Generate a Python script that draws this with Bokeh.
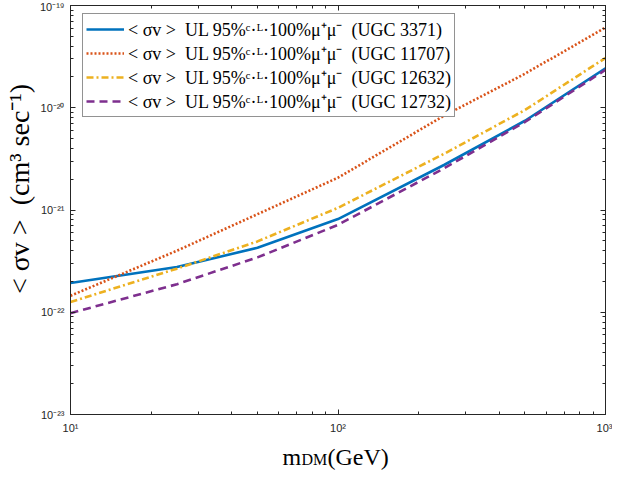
from bokeh.plotting import figure
from bokeh.layouts import column
from bokeh.models import (LogAxis, FixedTicker, CustomJSTickFormatter, Legend, LegendItem, Label)
from bokeh.embed import file_html
from bokeh.resources import INLINE

mass = [10, 25, 50, 100, 250, 500, 1000]
ugc3371 = [1.93e-22, 2.77e-22, 4.27e-22, 8.15e-22, 2.77e-21, 7.46e-21, 2.43e-20]
ugc11707 = [1.45e-22, 4.0e-22, 9.1e-22, 2.07e-21, 8.4e-21, 2.15e-20, 6.1e-20]
ugc12632 = [1.26e-22, 2.67e-22, 4.93e-22, 1.05e-21, 3.56e-21, 9.5e-21, 3.07e-20]
ugc12732 = [9.8e-23, 1.88e-22, 3.44e-22, 7.16e-22, 2.57e-21, 7.25e-21, 2.35e-20]

names = ["UGC 3371", "UGC 11707", "UGC 12632", "UGC 12732"]
series = [ugc3371, ugc11707, ugc12632, ugc12732]

x_major_ticks = [10, 100, 1000]
y_major_ticks = [1e-23, 1e-22, 1e-21, 1e-20, 1e-19]
minor_mult = [2, 3, 4, 5, 6, 7, 8, 9]

colors = ["#0072BD", "#D95319", "#EDB120", "#7E2F8E"]
dashes = ["solid", "2 2", "7 3 2 3", "8 5"]
widths = [2.6, 2.6, 2.6, 2.6]

x_minor = [d * k for d in x_major_ticks[:-1] for k in minor_mult]
y_minor = [d * k for d in y_major_ticks[:-1] for k in minor_mult]

AX = "#262626"
p = figure(width=612, height=436, x_axis_type="log", y_axis_type="log",
           x_range=(10, 1000), y_range=(1e-23, 1e-19),
           output_backend="svg", toolbar_location=None,
           min_border_left=63, min_border_right=7, min_border_top=5, min_border_bottom=20)
p.xgrid.visible = False
p.ygrid.visible = False
p.outline_line_color = AX
p.background_fill_color = "white"
p.border_fill_color = "white"

sup_code = """
const sup = {'-':'\u207b','0':'\u2070','1':'\u00b9','2':'\u00b2','3':'\u00b3','4':'\u2074','5':'\u2075','6':'\u2076','7':'\u2077','8':'\u2078','9':'\u2079'};
const e = Math.round(Math.log10(tick));
return '10' + String(e).split('').map(c => sup[c]).join('');
"""
blank_code = "return '';"

def style(ax, ticks, minors, labels=True):
    ax.ticker = FixedTicker(ticks=ticks, minor_ticks=minors)
    ax.axis_line_color = AX
    ax.major_tick_line_color = AX
    ax.minor_tick_line_color = AX
    ax.major_tick_in = 5
    ax.major_tick_out = 0
    ax.minor_tick_in = 3
    ax.minor_tick_out = 0
    ax.major_label_text_font = "Liberation Sans"
    ax.major_label_text_font_size = "11px"
    ax.major_label_text_color = AX
    ax.major_label_standoff = 6
    if labels:
        ax.formatter = CustomJSTickFormatter(code=sup_code)
    else:
        ax.formatter = CustomJSTickFormatter(code=blank_code)
        ax.major_label_text_font_size = "0px"
        ax.major_label_standoff = 0

style(p.xaxis[0], x_major_ticks, x_minor)
style(p.yaxis[0], y_major_ticks, y_minor)
p.xaxis[0].major_label_standoff = 7

top = LogAxis()
style(top, x_major_ticks, x_minor, labels=False)
p.add_layout(top, "above")
right = LogAxis()
style(right, y_major_ticks, y_minor, labels=False)
p.add_layout(right, "right")

NB = "\u00a0"
p.yaxis[0].axis_label = NB * 6 + "< \u03c3v >" + NB * 2 + "(cm\u00b3 sec\u207b\u00b9)"
p.yaxis[0].axis_label_text_font = "Liberation Serif"
p.yaxis[0].axis_label_text_font_size = "28px"
p.yaxis[0].axis_label_text_font_style = "normal"
p.yaxis[0].axis_label_text_color = "#000000"
p.yaxis[0].axis_label_standoff = 2

items = []
for name, ys, c, d, w in zip(names, series, colors, dashes, widths):
    r = p.line(mass, ys, line_color=c, line_dash=d, line_width=w)
    lab = "< \u03c3v >" + NB * 2 + "UL 95%\u1d9c\u00b7\u1d38\u00b7100%\u03bc\u207a\u03bc\u207b" + NB * 2 + "(" + name + ")"
    items.append(LegendItem(label=lab, renderers=[r]))

leg = Legend(items=items, location=(12, 297))
leg.label_text_font = "Liberation Serif"
leg.label_text_font_size = "18px"
leg.label_text_line_height = 1.0
leg.label_text_color = "#000000"
leg.border_line_color = AX
leg.border_line_width = 1
leg.background_fill_alpha = 1
leg.margin = 0
leg.padding = 3
leg.spacing = 0
leg.label_height = 18
leg.glyph_height = 18
leg.glyph_width = 38
leg.label_standoff = 4
p.add_layout(leg)

# x axis title (with subscript) in a strip below the plot
lf = figure(width=612, height=36, x_range=(0, 1), y_range=(0, 1), title=None,
            x_axis_location=None, y_axis_location=None,
            output_backend="svg", toolbar_location=None,
            min_border_left=63, min_border_right=7, min_border_top=0, min_border_bottom=0)
lf.grid.visible = False
lf.outline_line_color = None
lf.background_fill_color = "white"
lf.border_fill_color = "white"

fs = "24px"
lf.add_layout(Label(x=212, y=16, x_units="screen", y_units="screen", text="m",
                    text_font="Liberation Serif", text_font_size=fs, text_align="left",
                    text_baseline="alphabetic", text_color="#000000"))
lf.add_layout(Label(x=231, y=13, x_units="screen", y_units="screen", text="DM",
                    text_font="Liberation Serif", text_font_size="16px", text_align="left",
                    text_baseline="alphabetic", text_color="#000000"))
lf.add_layout(Label(x=257, y=16, x_units="screen", y_units="screen", text="(GeV)",
                    text_font="Liberation Serif", text_font_size=fs, text_align="left",
                    text_baseline="alphabetic", text_color="#000000"))

layout = column(p, lf, spacing=0)
open("out.html", "w").write(file_html(layout, INLINE))
